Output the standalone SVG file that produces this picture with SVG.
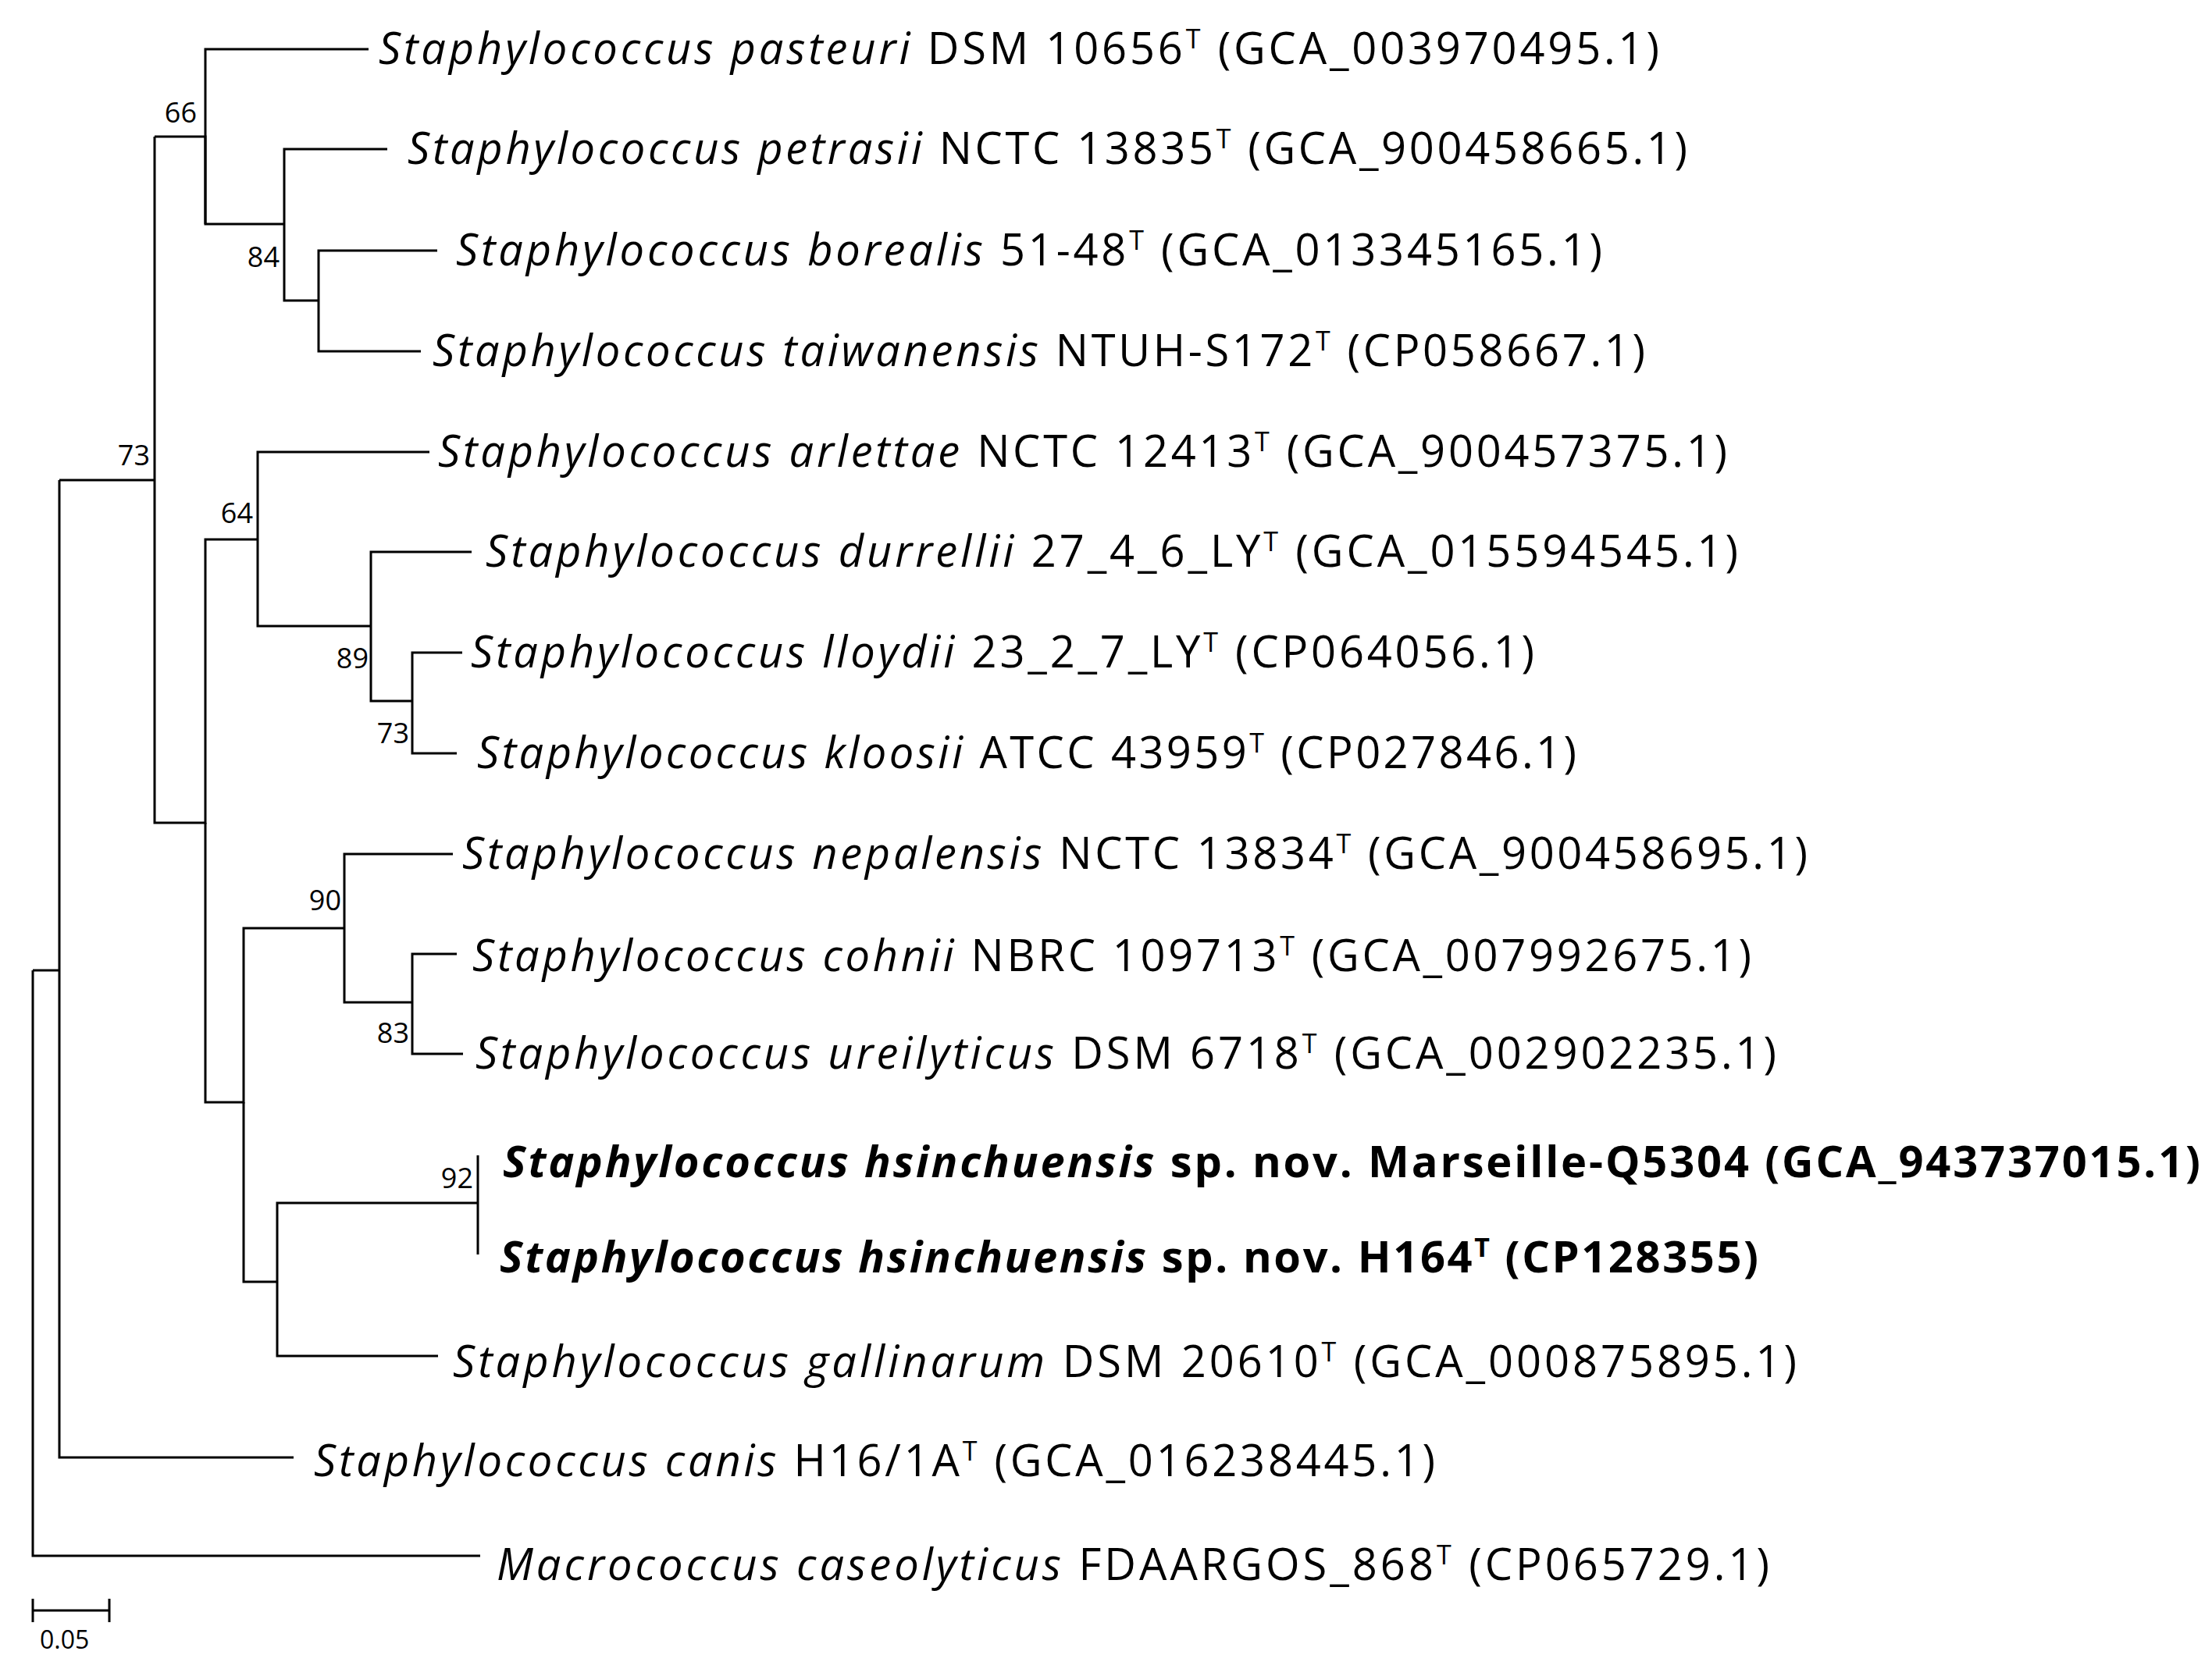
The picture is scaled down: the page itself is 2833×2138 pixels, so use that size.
<svg xmlns="http://www.w3.org/2000/svg" width="2833" height="2138" viewBox="0 0 2833 2138">
<style>
.b{fill:none;stroke:#000;stroke-width:3}
.t{font-family:"Open Sans","DejaVu Sans",sans-serif;font-size:56px;fill:#000}
.i{font-style:italic}
.bd{font-weight:bold}
.s{font-size:34px}
.sc{font-family:"Open Sans","DejaVu Sans",sans-serif;font-size:32px;fill:#000}
.n{font-family:"Open Sans","DejaVu Sans",sans-serif;font-size:36px;fill:#000;text-anchor:end}
</style>
<rect width="2833" height="2138" fill="#fff"/>
<g id="connectors">
<path class="b" d="M472,63H263V287H364V191H496M364,287V385H408V321H560M408,385V450H539"/>
<path class="b" d="M198,175H263V287M198,175V1054H263V691H330V579H550M330,691V802H475V707H604M475,802V898H528V836H592M528,898V965H585"/>
<path class="b" d="M263,1054V1412H312V1189H441V1094H580M441,1189V1284H528V1222H585M528,1284V1350H593"/>
<path class="b" d="M312,1412V1642H355V1541H612V1480M612,1541V1607M355,1642V1737H561"/>
<path class="b" d="M76,615H198M76,615V1867H376M42,1243H76M42,1243V1993H615"/>
<path class="b" d="M42,2063H140M42,2048V2078M140,2048V2078"/>
</g>
<g id="supports">
<text class="n" x="252" y="157">66</text>
<text class="n" x="358" y="342">84</text>
<text class="n" x="192" y="596">73</text>
<text class="n" x="324" y="670">64</text>
<text class="n" x="472" y="856">89</text>
<text class="n" x="524" y="952">73</text>
<text class="n" x="437" y="1166">90</text>
<text class="n" x="524" y="1336">83</text>
<text class="n" x="606" y="1522">92</text>
<text class="sc" x="51" y="2112">0.05</text>
</g>
<g id="labels">
<text id="n1" class="t" x="485" y="82" textLength="1640"><tspan class="i">Staphylococcus pasteuri</tspan> DSM 10656<tspan class="s" dy="-20">T</tspan><tspan dy="20"> (GCA_003970495.1)</tspan></text>
<text id="n2" class="t" x="522" y="210" textLength="1639"><tspan class="i">Staphylococcus petrasii</tspan> NCTC 13835<tspan class="s" dy="-20">T</tspan><tspan dy="20"> (GCA_900458665.1)</tspan></text>
<text id="n3" class="t" x="584" y="340" textLength="1468"><tspan class="i">Staphylococcus borealis</tspan> 51-48<tspan class="s" dy="-20">T</tspan><tspan dy="20"> (GCA_013345165.1)</tspan></text>
<text id="n4" class="t" x="554" y="469" textLength="1553"><tspan class="i">Staphylococcus taiwanensis</tspan> NTUH-S172<tspan class="s" dy="-20">T</tspan><tspan dy="20"> (CP058667.1)</tspan></text>
<text id="n5" class="t" x="561" y="598" textLength="1651"><tspan class="i">Staphylococcus arlettae</tspan> NCTC 12413<tspan class="s" dy="-20">T</tspan><tspan dy="20"> (GCA_900457375.1)</tspan></text>
<text id="n6" class="t" x="622" y="726" textLength="1604"><tspan class="i">Staphylococcus durrellii</tspan> 27_4_6_LY<tspan class="s" dy="-20">T</tspan><tspan dy="20"> (GCA_015594545.1)</tspan></text>
<text id="n7" class="t" x="603" y="855" textLength="1362"><tspan class="i">Staphylococcus lloydii</tspan> 23_2_7_LY<tspan class="s" dy="-20">T</tspan><tspan dy="20"> (CP064056.1)</tspan></text>
<text id="n8" class="t" x="611" y="984" textLength="1408"><tspan class="i">Staphylococcus kloosii</tspan> ATCC 43959<tspan class="s" dy="-20">T</tspan><tspan dy="20"> (CP027846.1)</tspan></text>
<text id="n9" class="t" x="592" y="1113" textLength="1723"><tspan class="i">Staphylococcus nepalensis</tspan> NCTC 13834<tspan class="s" dy="-20">T</tspan><tspan dy="20"> (GCA_900458695.1)</tspan></text>
<text id="n10" class="t" x="605" y="1244" textLength="1638"><tspan class="i">Staphylococcus cohnii</tspan> NBRC 109713<tspan class="s" dy="-20">T</tspan><tspan dy="20"> (GCA_007992675.1)</tspan></text>
<text id="n11" class="t" x="609" y="1369" textLength="1666"><tspan class="i">Staphylococcus ureilyticus</tspan> DSM 6718<tspan class="s" dy="-20">T</tspan><tspan dy="20"> (GCA_002902235.1)</tspan></text>
<text id="n12" class="t bd" x="644" y="1508" textLength="2174"><tspan class="i">Staphylococcus hsinchuensis</tspan> sp. nov. Marseille-Q5304 (GCA_943737015.1)</text>
<text id="n13" class="t bd" x="640" y="1630" textLength="1612"><tspan class="i">Staphylococcus hsinchuensis</tspan> sp. nov. H164<tspan class="s" dy="-20">T</tspan><tspan dy="20"> (CP128355)</tspan></text>
<text id="n14" class="t" x="580" y="1764" textLength="1721"><tspan class="i">Staphylococcus gallinarum</tspan> DSM 20610<tspan class="s" dy="-20">T</tspan><tspan dy="20"> (GCA_000875895.1)</tspan></text>
<text id="n15" class="t" x="402" y="1891" textLength="1436"><tspan class="i">Staphylococcus canis</tspan> H16/1A<tspan class="s" dy="-20">T</tspan><tspan dy="20"> (GCA_016238445.1)</tspan></text>
<text id="n16" class="t" x="636" y="2024" textLength="1630"><tspan class="i">Macrococcus caseolyticus</tspan> FDAARGOS_868<tspan class="s" dy="-20">T</tspan><tspan dy="20"> (CP065729.1)</tspan></text>
</g>
</svg>
